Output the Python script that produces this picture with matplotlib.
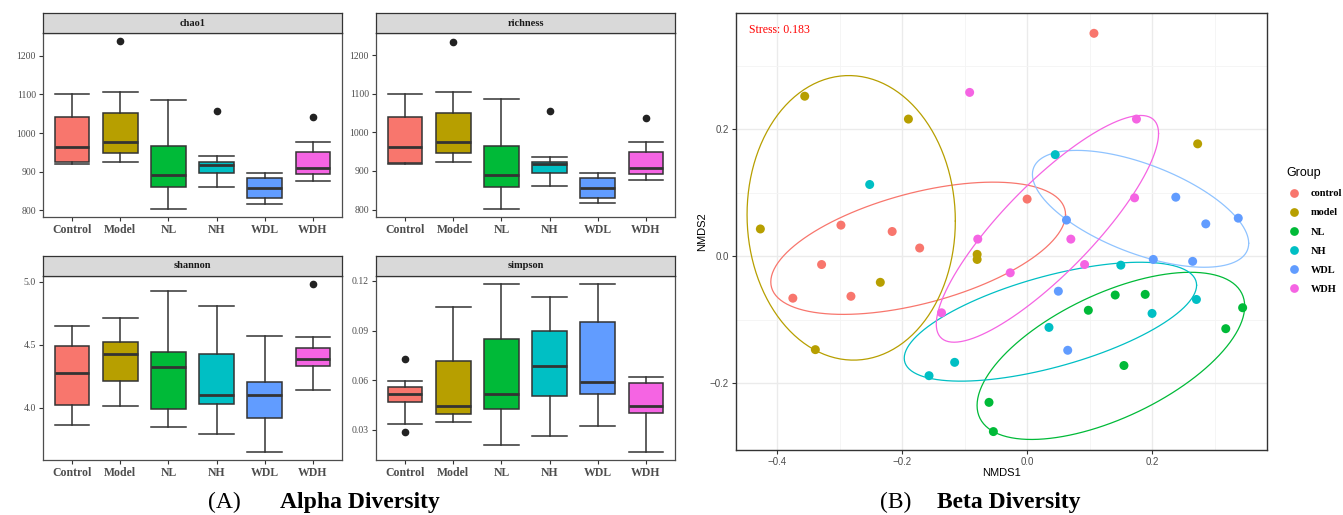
import numpy as np
import matplotlib.pyplot as plt
from matplotlib.lines import Line2D

W, H = 1343, 515
SERIF = ['Liberation Serif', 'DejaVu Serif']
SANS = ['Liberation Sans', 'DejaVu Sans']

groups = ["Control", "Model", "NL", "NH", "WDL", "WDH"]
legend_labels = ["control", "model", "NL", "NH", "WDL", "WDH"]
colors = ["#F8766D", "#B79F00", "#00BA38", "#00BFC4", "#619CFF", "#F564E3"]

# box stats: whislo, q1, med, q3, whishi, fliers
chao1_stats = {
    "whislo": [919.5, 924.7, 802.6, 861.5, 817.3, 877.0],
    "q1": [924.7, 948.0, 859.7, 897.0, 831.0, 894.4],
    "med": [965.0, 975.8, 891.0, 917.7, 858.0, 910.0],
    "q3": [1041.6, 1051.0, 966.0, 923.8, 884.0, 951.5],
    "whishi": [1100.0, 1107.0, 1086.6, 939.4, 897.8, 975.8],
    "fliers": [[], [1237.0], [], [1057.0], [], [1040.7]],
}
richness_stats = {
    "whislo": [917.0, 924.0, 801.0, 860.0, 816.0, 876.0],
    "q1": [920.0, 946.0, 859.0, 895.0, 829.0, 893.0],
    "med": [963.0, 974.0, 889.0, 917.0, 855.0, 908.0],
    "q3": [1039.0, 1049.0, 964.5, 922.0, 882.0, 950.0],
    "whishi": [1098.0, 1105.0, 1085.0, 936.0, 896.0, 974.0],
    "fliers": [[], [1235.0], [], [1054.0], [], [1038.0]],
}
shannon_stats = {
    "whislo": [3.862, 4.011, 3.849, 3.791, 3.651, 4.138],
    "q1": [4.021, 4.214, 3.987, 4.029, 3.918, 4.328],
    "med": [4.278, 4.429, 4.320, 4.100, 4.100, 4.386],
    "q3": [4.492, 4.524, 4.442, 4.426, 4.206, 4.476],
    "whishi": [4.651, 4.709, 4.929, 4.807, 4.566, 4.558],
    "fliers": [[], [], [], [], [], [4.979]],
}
simpson_stats = {
    "whislo": [0.0338, 0.0349, 0.0211, 0.0264, 0.0322, 0.0164],
    "q1": [0.0466, 0.0399, 0.0427, 0.0504, 0.0518, 0.0403],
    "med": [0.0516, 0.0442, 0.0518, 0.0684, 0.0591, 0.0442],
    "q3": [0.0561, 0.0717, 0.0852, 0.0895, 0.0953, 0.0583],
    "whishi": [0.0593, 0.1040, 0.1182, 0.1101, 0.1182, 0.0620],
    "fliers": [[0.0731, 0.0290], [], [], [], [], []],
}

facets = ["chao1", "richness", "shannon", "simpson"]
facet_stats = [chao1_stats, richness_stats, shannon_stats, simpson_stats]
facet_ylim = [(782.7, 1258.9), (781.0, 1257.0), (3.585, 5.045), (0.0118, 0.123)]
facet_yticks = [[800, 900, 1000, 1100, 1200], [800, 900, 1000, 1100, 1200],
                [4.0, 4.5, 5.0], [0.03, 0.06, 0.09, 0.12]]
facet_fmt = ["{:.0f}", "{:.0f}", "{:.1f}", "{:.2f}"]

# NMDS scores
nmds_x = {
    "control": [0.107, 0.000, -0.298, -0.216, -0.172, -0.329, -0.375, -0.282],
    "model": [-0.356, -0.190, -0.427, -0.080, -0.080, -0.235, -0.339, 0.273],
    "NL": [-0.061, -0.054, 0.098, 0.141, 0.189, 0.155, 0.318, 0.345],
    "NH": [-0.252, 0.045, -0.116, -0.157, 0.150, 0.035, 0.200, 0.271],
    "WDL": [0.238, 0.063, 0.286, 0.338, 0.202, 0.265, 0.050, 0.065],
    "WDH": [-0.092, -0.079, 0.175, 0.172, 0.070, -0.027, -0.137, 0.092],
}
nmds_y = {
    "control": [0.351, 0.090, 0.049, 0.039, 0.013, -0.013, -0.066, -0.063],
    "model": [0.252, 0.216, 0.043, 0.003, -0.005, -0.041, -0.147, 0.177],
    "NL": [-0.230, -0.276, -0.085, -0.061, -0.060, -0.172, -0.114, -0.081],
    "NH": [0.113, 0.160, -0.167, -0.188, -0.014, -0.112, -0.090, -0.068],
    "WDL": [0.093, 0.057, 0.051, 0.060, -0.005, -0.008, -0.055, -0.148],
    "WDH": [0.258, 0.027, 0.216, 0.092, 0.027, -0.026, -0.089, -0.013],
}
# group ellipses: centre, half width, half height,
# and y offset of the rightmost point from the centre
ell_cx = {"control": -0.1744, "model": -0.2816, "NL": 0.1341, "NH": 0.0373, "WDL": 0.1816, "WDH": 0.0325}
ell_cy = {"control": 0.0126, "model": 0.0605, "NL": -0.1568, "NH": -0.1030, "WDL": 0.0747, "WDH": 0.0432}
ell_hx = {"control": 0.2359, "model": 0.1667, "NL": 0.2142, "NH": 0.2340, "WDL": 0.1731, "WDH": 0.1779}
ell_hy = {"control": 0.1041, "model": 0.2240, "NL": 0.1316, "NH": 0.0936, "WDL": 0.0920, "WDH": 0.1785}
ell_dy = {"control": 0.0530, "model": -0.0050, "NL": 0.0781, "NH": 0.0574, "WDL": -0.0542, "WDH": 0.1500}
ellipse_colors = ["#F8766D", "#B79F00", "#00BA38", "#00BFC4", "#8FC3FF", "#F564E3"]
stress = 0.183


def px(x0, y0, x1, y1):
    return [x0 / W, 1 - y1 / H, (x1 - x0) / W, (y1 - y0) / H]


def ellipse_path(cx, cy, hx, hy, dy, segments=120):
    m = np.array([[hx * hx, dy * hx], [dy * hx, hy * hy]])
    L = np.linalg.cholesky(m)
    ang = np.linspace(0, 2 * np.pi, segments + 1)
    circ = np.column_stack([np.cos(ang), np.sin(ang)])
    e = np.array([cx, cy]) + circ @ L.T
    return e[:, 0], e[:, 1]


fig = plt.figure(figsize=(W / 100, H / 100), dpi=100)

# ---- (A) alpha diversity facets
rects = [(43, 33, 342, 217), (376, 33, 675, 217), (43, 276, 342, 460), (376, 276, 675, 460)]
pos = np.arange(1, 7)
for name, st, (x0, y0, x1, y1), ylim, yt, fmt in zip(facets, facet_stats, rects, facet_ylim,
                                                     facet_yticks, facet_fmt):
    ax = fig.add_axes(px(x0, y0, x1, y1))
    bstats = []
    for i in range(6):
        bstats.append({"whislo": st["whislo"][i], "q1": st["q1"][i], "med": st["med"][i],
                       "q3": st["q3"][i], "whishi": st["whishi"][i], "fliers": st["fliers"][i]})
    bp = ax.bxp(bstats, positions=pos, widths=0.72, capwidths=0.72, patch_artist=True,
                boxprops=dict(edgecolor="#333333", linewidth=1.1),
                medianprops=dict(color="#333333", linewidth=2.0),
                whiskerprops=dict(color="#333333", linewidth=1.1),
                capprops=dict(color="#333333", linewidth=1.1),
                flierprops=dict(marker="o", markerfacecolor="#222222", markeredgecolor="#222222",
                                markersize=4.5))
    for patch, c in zip(bp["boxes"], colors):
        patch.set_facecolor(c)
        patch.set_zorder(2)
    for m in bp["medians"]:
        m.set_zorder(3)
    ax.set_xlim(0.4, 6.6)
    ax.set_ylim(*ylim)
    ax.set_yticks(yt)
    ax.set_yticklabels([fmt.format(v) for v in yt], family=SERIF, fontsize=7, color="#4D4D4D")
    ax.set_xticks(pos)
    ax.set_xticklabels(groups, family=SERIF, fontsize=8.5, fontweight="bold", color="#4D4D4D")
    ax.tick_params(length=3, width=0.8, color="#333333", pad=2)
    for s in ax.spines.values():
        s.set_color("#4D4D4D")
        s.set_linewidth(0.9)
    sax = fig.add_axes(px(x0, y0 - 20, x1, y0))
    sax.set_facecolor("#D9D9D9")
    sax.set_xticks([])
    sax.set_yticks([])
    for s in sax.spines.values():
        s.set_color("#333333")
        s.set_linewidth(0.9)
    sax.text(0.5, 0.5, name, ha="center", va="center", family=SERIF, fontsize=7.5,
             fontweight="bold", color="#1A1A1A", transform=sax.transAxes)

# ---- (B) beta diversity NMDS
ax = fig.add_axes(px(736, 13, 1267, 450))
ax.set_axisbelow(True)
for g, ec in zip(legend_labels, ellipse_colors):
    ex, ey = ellipse_path(ell_cx[g], ell_cy[g], ell_hx[g], ell_hy[g], ell_dy[g])
    ax.plot(ex, ey, color=ec, linewidth=0.9, zorder=2)
for g, c in zip(legend_labels, colors):
    ax.scatter(nmds_x[g], nmds_y[g], s=42, color=c, edgecolors="none", zorder=3)
ax.set_xlim(-0.466, 0.384)
ax.set_ylim(-0.305, 0.383)
ax.set_xticks([-0.4, -0.2, 0.0, 0.2])
ax.set_yticks([-0.2, 0.0, 0.2])
ax.set_xticks([-0.3, -0.1, 0.1, 0.3], minor=True)
ax.set_yticks([-0.1, 0.1, 0.3], minor=True)
ax.set_xticklabels(["\u22120.4", "\u22120.2", "0.0", "0.2"], family=SANS, fontsize=7, color="#4D4D4D")
ax.set_yticklabels(["\u22120.2", "0.0", "0.2"], family=SANS, fontsize=7, color="#4D4D4D")
ax.grid(which="major", color="#EBEBEB", linewidth=1.0)
ax.grid(which="minor", color="#F4F4F4", linewidth=0.6)
ax.tick_params(which="major", length=3, width=0.8, color="#333333", pad=2)
ax.tick_params(which="minor", length=0)
for s in ax.spines.values():
    s.set_color("#333333")
    s.set_linewidth(1.0)
ax.set_xlabel("NMDS1", family=SANS, fontsize=8, labelpad=1)
ax.set_ylabel("NMDS2", family=SANS, fontsize=8, labelpad=2)
ax.text(0.024, 0.974, f"Stress: {stress}", transform=ax.transAxes, ha="left", va="top",
        family=SERIF, fontsize=8.5, color="#FF0000")

handles = [Line2D([], [], marker="o", linestyle="none", markersize=6.3, markerfacecolor=c,
                  markeredgecolor="none") for c in colors]
leg = fig.legend(handles, legend_labels, loc="upper left", bbox_to_anchor=(1286 / W, 1 - 167 / H),
                 frameon=False, title="Group", handletextpad=0.75, labelspacing=0.95,
                 handlelength=1.6, borderpad=0, borderaxespad=0,
                 prop=dict(family=SERIF, size=7.5, weight="bold"),
                 title_fontproperties=dict(family=SANS, size=9))
leg._legend_box.align = "left"

# ---- captions
fig.text(208 / W, 1 - 508 / H, "(A)", family=SERIF, fontsize=17, ha="left", va="baseline")
fig.text(280 / W, 1 - 508 / H, "Alpha Diversity", family=SERIF, fontsize=17, fontweight="bold",
         ha="left", va="baseline")
fig.text(880 / W, 1 - 508 / H, "(B)", family=SERIF, fontsize=17, ha="left", va="baseline")
fig.text(937 / W, 1 - 508 / H, "Beta Diversity", family=SERIF, fontsize=17, fontweight="bold",
         ha="left", va="baseline")

fig.savefig("out.png", dpi=100)
